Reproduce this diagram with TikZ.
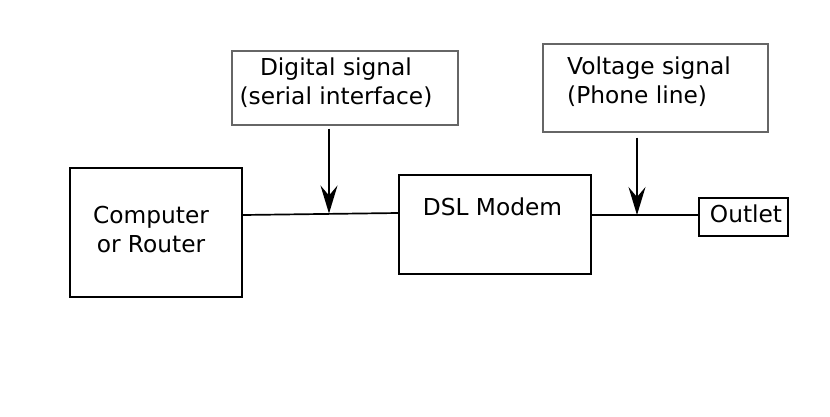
\documentclass[tikz,border=0pt]{standalone}
\usepackage{fontspec}
\setmainfont{DejaVu Sans}
\usetikzlibrary{arrows.meta}
\tikzset{
  blockbox/.style={draw=black,line width=1.9pt,fill=white,inner sep=0pt},
  signalbox/.style={draw=black!60,line width=1.1pt,fill=white},
  wire/.style={line width=1.7pt},
  feed/.style={line width=1.7pt,-{Stealth[length=28pt,width=17pt,inset=10pt]}}
}
\begin{document}
\begin{tikzpicture}[x=1pt,y=-1pt,font=\fontsize{23.3}{29}\selectfont]
\useasboundingbox[fill=white] (0,0) rectangle (830,416);
% blocks
\node[blockbox,minimum width=172pt,minimum height=129pt] (comp) at (156,232.5) {};
\node[inner sep=0pt,align=center] (comptxt) at (151,230) {Computer\\or Router};
\node[blockbox,minimum width=192pt,minimum height=99pt] (modem) at (495,224.5) {};
\node[anchor=base,inner sep=0pt] (modemtxt) at (492.5,215) {DSL Modem};
\node[blockbox,minimum width=89pt,minimum height=38pt] (outlet) at (743.5,217) {};
\node[anchor=base,inner sep=0pt] (outlettxt) at (746,222) {Outlet};
% signal notes
\node[signalbox,minimum width=226pt,minimum height=74pt] (digital) at (345,88) {};
\node[inner sep=0pt,align=center] (digitaltxt) at (336,83) {Digital signal\\(serial interface)};
\node[signalbox,minimum width=225pt,minimum height=88pt] (voltage) at (655.5,88) {};
\node[anchor=west,inner sep=0pt,align=left] (voltagetxt) at (567,82) {Voltage signal\\(Phone line)};
% wires
\coordinate (dsig) at (329,213.5);
\coordinate (vsig) at (637,215);
\draw[wire] ([yshift=17.5pt]comp.east) -- ([yshift=11.5pt]modem.west);
\draw[wire] ([yshift=9.5pt]modem.east) -- ([yshift=2pt]outlet.west);
\draw[feed] ([xshift=-16pt,yshift=-3pt]digital.south) -- (dsig);
\draw[feed] ([xshift=-18.5pt,yshift=-5pt]voltage.south) -- (vsig);
\end{tikzpicture}
\end{document}
